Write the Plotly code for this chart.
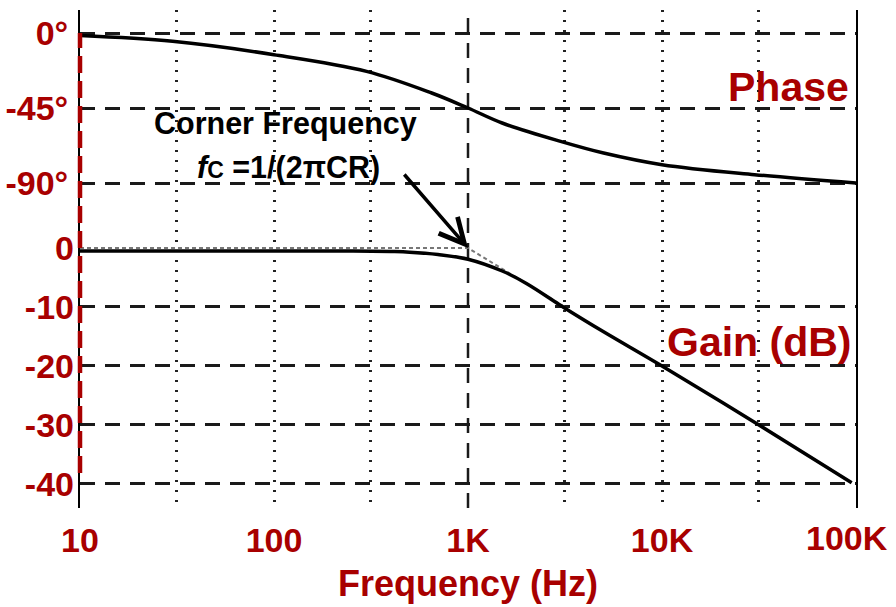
import math
import plotly.graph_objects as go

# ---------------- data ----------------
freq_ticks = [10, 100, 1000, 10000, 100000]
freq_labels = ["10", "100", "1K", "10K", "100K"]
dotted_grid_freqs = [31.6, 100, 316, 3160, 10000, 31600]
corner_freq = 1000

phase_ticks = [0, -45, -90]
phase_labels = ["0°", "-45°", "-90°"]
gain_ticks = [0, -10, -20, -30, -40]
gain_labels = ["0", "-10", "-20", "-30", "-40"]

phase_freq = [10, 30, 100, 300, 650, 1000, 1500, 3000, 5000, 10000, 30000, 100000]
phase_deg = [-1.5, -5, -13, -23, -36, -45, -54, -65, -72, -79, -85, -90]

gain_freq = [10, 100, 200, 400, 500, 700, 1000, 1500, 2000, 3160, 5000, 10000, 31600, 95000]
gain_db = [-0.5, -0.5, -0.5, -0.6, -0.7, -1.1, -1.9, -3.9, -6.0, -10.2, -14.2, -20, -30, -39.8]

asym_freq = [10, 1000, 3160]
asym_db = [0, 0, -10]

RED = "#A80000"
FONT = "Liberation Sans, Arial, sans-serif"

phase_range = [-285, 13.8]
gain_range = [-44.07, 40.34]

fig = go.Figure()

# 1K dashed vertical line
fig.add_trace(go.Scatter(
    x=[corner_freq, corner_freq], y=phase_range, mode="lines",
    line=dict(color="#1a1a1a", width=2.5, dash="15px,10px"),
    hoverinfo="skip", showlegend=False, yaxis="y"))

# asymptote (gray dotted)
fig.add_trace(go.Scatter(
    x=asym_freq, y=asym_db, mode="lines",
    line=dict(color="#777777", width=2, dash="4px,3px"),
    hoverinfo="skip", showlegend=False, yaxis="y2"))

# phase curve
fig.add_trace(go.Scatter(
    x=phase_freq, y=phase_deg, mode="lines", line_shape="spline",
    line=dict(color="black", width=3.5), showlegend=False, yaxis="y"))

# gain curve
fig.add_trace(go.Scatter(
    x=gain_freq, y=gain_db, mode="lines", line_shape="spline",
    line=dict(color="black", width=3.5), showlegend=False, yaxis="y2"))

tickfont = dict(family=FONT, size=34, color=RED, weight="bold")
xtickfont = dict(family=FONT, size=34, color=RED, weight="bold")

# last label is placed as an annotation (shifted inward, like the reference)
xticktext = freq_labels[:-1] + [""]

fig.update_layout(
    width=896, height=607,
    margin=dict(l=80, r=40, t=10, b=99),
    paper_bgcolor="white", plot_bgcolor="white",
    showlegend=False,
    xaxis=dict(
        type="log", range=[1, 5], automargin=False,
        tickmode="array", tickvals=freq_ticks, ticktext=xticktext,
        tickfont=xtickfont,
        ticks="", showline=False, zeroline=False, showgrid=False,
        ticklabelstandoff=9, ticklabeloverflow="allow",
        minor=dict(tickmode="array", tickvals=dotted_grid_freqs, showgrid=True,
                   gridcolor="#222222", gridwidth=2.5, griddash="2px,8px", ticks=""),
        title=dict(text="Frequency (Hz)", standoff=12,
                   font=dict(family=FONT, size=36, color=RED, weight="bold")),
    ),
    yaxis=dict(
        range=phase_range, automargin=False,
        tickmode="array", tickvals=phase_ticks, ticktext=phase_labels,
        tickfont=tickfont, ticks="", showline=True, mirror=True,
        linecolor="black", linewidth=2, zeroline=False,
        showgrid=True, gridcolor="#1a1a1a", gridwidth=2.5, griddash="15px,10px",
        ticklabelstandoff=3, ticklabeloverflow="allow",
    ),
    yaxis2=dict(
        range=gain_range, overlaying="y", side="left", anchor="x", automargin=False,
        tickmode="array", tickvals=gain_ticks, ticktext=gain_labels,
        tickfont=tickfont, ticks="", showline=False, zeroline=False, showgrid=False,
        ticklabelstandoff=5, ticklabeloverflow="allow",
        minor=dict(tickmode="array", tickvals=gain_ticks[1:], showgrid=True,
                   gridcolor="#1a1a1a", gridwidth=2.5, griddash="15px,10px", ticks=""),
    ),
)

# 100K tick label
fig.add_annotation(text=freq_labels[-1], xref="x", yref="paper",
                   x=math.log10(freq_ticks[-1]), y=(508 - 538) / 498,
                   xanchor="center", yanchor="middle", xshift=-9,
                   showarrow=False, font=xtickfont)

# white box behind the corner-frequency text (covers grid only)
fig.add_shape(type="rect", xref="paper", yref="paper",
              x0=(150 - 80) / 776, x1=(420 - 80) / 776,
              y0=(508 - 180) / 498, y1=(508 - 112) / 498,
              fillcolor="white", line=dict(width=0), layer="between")

# red dashed line along left axis
fig.add_shape(type="line", xref="paper", yref="paper",
              x0=0, x1=0, y0=(508 - 473) / 498, y1=(508 - 33) / 498,
              line=dict(color=RED, width=4.5, dash="17px,8px"), layer="above")

fig.add_annotation(text="Phase", xref="paper", yref="paper",
                   x=(851 - 80) / 776, y=(508 - 87) / 498, xanchor="right", yanchor="middle",
                   showarrow=False, font=dict(family=FONT, size=41, color=RED, weight="bold"))
fig.add_annotation(text="Gain (dB)", xref="paper", yref="paper",
                   x=(853 - 80) / 776, y=(508 - 342) / 498, xanchor="right", yanchor="middle",
                   showarrow=False, font=dict(family=FONT, size=41, color=RED, weight="bold"))
fig.add_annotation(text="Corner Frequency", xref="paper", yref="paper",
                   x=(285 - 80) / 776, y=(508 - 124) / 498, xanchor="center", yanchor="middle",
                   showarrow=False, font=dict(family=FONT, size=30.5, color="black", weight="bold"))
fig.add_annotation(text="<i>f</i><span style='font-size:23px'>C</span> =1/(2πCR)",
                   xref="paper", yref="paper",
                   x=(288 - 80) / 776, y=(508 - 168) / 498, xanchor="center", yanchor="middle",
                   showarrow=False, font=dict(family=FONT, size=30.5, color="black", weight="bold"))

# arrow to the corner point
fig.add_annotation(text="", x=math.log10(corner_freq), y=gain_ticks[0], xref="x", yref="y2",
                   showarrow=True, arrowhead=5, arrowsize=1.4, arrowwidth=3.5,
                   arrowcolor="black", ax=-65, ay=-75)

fig.write_html("out.html", config={"displayModeBar": False},
               post_script="document.body.style.margin='0px';")
